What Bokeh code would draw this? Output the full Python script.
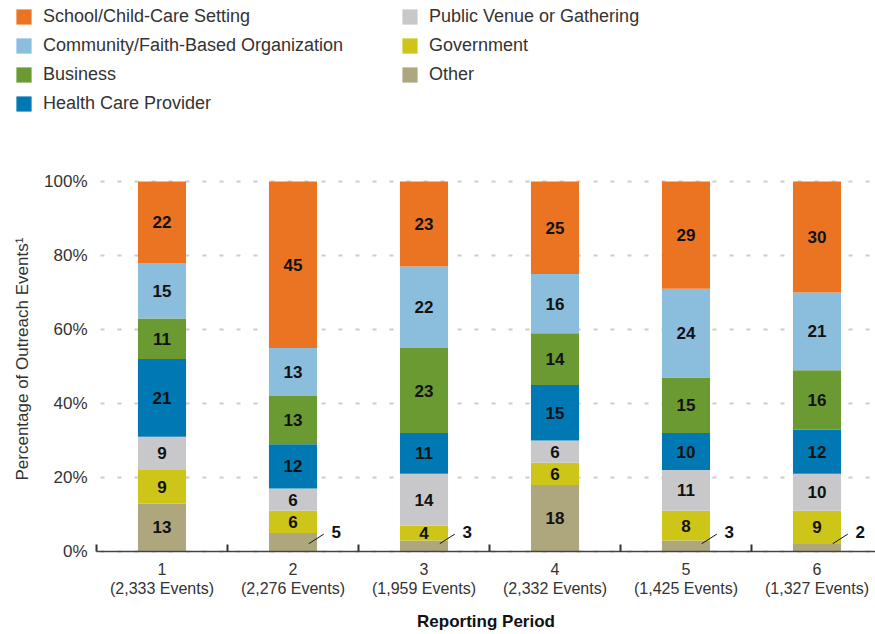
from bokeh.plotting import figure
from bokeh.models import (ColumnDataSource, Range1d, FixedTicker, PrintfTickFormatter,
                          Legend, LegendItem, Label)
from bokeh.embed import file_html
from bokeh.resources import INLINE
from bokeh.core.properties import value

# ---------------- data ----------------
periods = ["1", "2", "3", "4", "5", "6"]
event_counts = ["2,333", "2,276", "1,959", "2,332", "1,425", "1,327"]

other = [13, 5, 3, 18, 3, 2]
government = [9, 6, 4, 6, 8, 9]
public_venue = [9, 6, 14, 6, 11, 10]
health_care = [21, 12, 11, 15, 10, 12]
business = [11, 13, 23, 14, 15, 16]
community = [15, 13, 22, 16, 24, 21]
school = [22, 45, 23, 25, 29, 30]

y_ticks = [0, 20, 40, 60, 80, 100]

# bottom -> top stacking order
stack_keys = ["other", "government", "public_venue", "health_care", "business", "community", "school"]
stack_values = [other, government, public_venue, health_care, business, community, school]
stack_names = ["Other", "Government", "Public Venue or Gathering", "Health Care Provider",
               "Business", "Community/Faith-Based Organization", "School/Child-Care Setting"]
bar_colors = ["#AEA77E", "#CDC618", "#C8C8CA", "#0078B4", "#6B9A32", "#8BBDDD", "#EB7423"]

# legend order: column 1 then column 2
legend_order = ["school", "community", "business", "health_care", "public_venue", "government", "other"]

x_title = "Reporting Period"
y_title = "Percentage of Outreach Events\u00b9"

FONT = "Liberation Sans"
x_pos = [i + 0.5 for i in range(len(periods))]
X_END = 779 / 131
Y_SCALE = 3.7  # px per percentage point

# ---------------- figure ----------------
source = ColumnDataSource(dict(x=x_pos, **{k: v for k, v in zip(stack_keys, stack_values)}))

p = figure(width=875, height=634,
           x_range=Range1d(-96 / 131, X_END),
           y_range=Range1d(-(634 - 551) / Y_SCALE, 551 / Y_SCALE),
           toolbar_location=None, output_backend="svg",
           min_border_left=0, min_border_right=0, min_border_top=0, min_border_bottom=0,
           outline_line_color=None)

renderers = p.vbar_stack(stack_keys, x="x", width=0.367, color=bar_colors, line_color=None,
                         source=source)

# legend (two columns, top-left)
items = []
for key in legend_order:
    idx = stack_keys.index(key)
    items.append(LegendItem(label=stack_names[idx], renderers=[renderers[idx]]))
legend = Legend(items=items, location=(14, 520), orientation="vertical", nrows=4,
                margin=0, padding=0, spacing=8, glyph_width=19, glyph_height=19,
                label_height=21, label_width=349, label_standoff=10,
                label_text_font=FONT, label_text_font_size="18px", label_text_color="#333333",
                border_line_color=None, background_fill_alpha=0)
p.add_layout(legend, "center")

# value labels
in_x, in_y, in_t = [], [], []
out_x, out_y, out_t = [], [], []
ld_x0, ld_y0, ld_x1, ld_y1 = [], [], [], []
for i in range(len(periods)):
    base = 0
    for key, vals in zip(stack_keys, stack_values):
        v = vals[i]
        if key == "other" and v <= 5:
            out_x.append(x_pos[i] + 0.33)
            out_y.append(5.4)
            out_t.append(str(v))
            ld_x0.append(x_pos[i] + 0.12)
            ld_y0.append(2.1)
            ld_x1.append(x_pos[i] + 0.235)
            ld_y1.append(4.7)
        else:
            in_x.append(x_pos[i])
            in_y.append(base + v / 2)
            in_t.append(str(v))
        base += v

p.text(x=in_x, y=in_y, text=in_t, text_align="center", text_baseline="middle",
       text_font=value(FONT), text_font_size="17px", text_font_style="bold", text_color="#111111")
p.text(x=out_x, y=out_y, text=out_t, text_align="center", text_baseline="middle",
       text_font=value(FONT), text_font_size="17px", text_font_style="bold", text_color="#111111")
p.segment(x0=ld_x0, y0=ld_y0, x1=ld_x1, y1=ld_y1, line_color="#111111", line_width=1)

# x axis, drawn at y = 0
xa = p.xaxis[0]
xa.fixed_location = 0
xa.bounds = (0, X_END)
xa.ticker = FixedTicker(ticks=x_pos, minor_ticks=list(range(len(periods))))
xa.major_label_overrides = {x: f"{per}\n({cnt} Events)" for x, per, cnt in zip(x_pos, periods, event_counts)}
xa.major_tick_line_color = None
xa.major_tick_in = 0
xa.major_tick_out = 0
xa.minor_tick_in = 7
xa.minor_tick_out = 0
xa.minor_tick_line_color = "#333333"
xa.minor_tick_line_width = 2
xa.axis_line_color = "#444444"
xa.axis_line_width = 1.5
xa.major_label_standoff = 9
xa.major_label_text_font = FONT
xa.major_label_text_font_size = "16px"
xa.major_label_text_color = "#333333"
xa.major_label_text_line_height = 1.15

# y axis, drawn at x = 0 (left edge of the bar area)
ya = p.yaxis[0]
ya.fixed_location = 0
ya.ticker = FixedTicker(ticks=y_ticks)
ya.formatter = PrintfTickFormatter(format="%d%%")
ya.axis_line_color = None
ya.major_tick_line_color = None
ya.minor_tick_line_color = None
ya.major_tick_in = 0
ya.major_tick_out = 0
ya.major_label_standoff = 9
ya.major_label_text_font = FONT
ya.major_label_text_font_size = "17px"
ya.major_label_text_color = "#333333"

# axis titles
p.add_layout(Label(x=X_END / 2, y=-18.9, text=x_title, text_align="center", text_baseline="middle",
                   text_font=FONT, text_font_size="17px", text_font_style="bold",
                   text_color="#111111"))
p.add_layout(Label(x=22, x_units="screen", y=52, text=y_title, angle=90, angle_units="deg",
                   text_align="center", text_baseline="middle",
                   text_font=FONT, text_font_size="17px", text_color="#333333"))

p.xgrid.grid_line_color = None
yg = p.ygrid[0]
yg.ticker = FixedTicker(ticks=y_ticks)
yg.grid_line_color = "#CCCCCC"
yg.grid_line_width = 2
yg.grid_line_dash = "4 13"
try:
    yg.cross_bounds = (0.03, X_END)
except AttributeError:
    yg.grid_line_color = None
    p.segment(x0=[0.03] * len(y_ticks), y0=y_ticks, x1=[X_END] * len(y_ticks), y1=y_ticks,
              line_color="#CCCCCC", line_width=2, line_dash="4 13", level="underlay")

open("out.html", "w").write(file_html(p, INLINE))
